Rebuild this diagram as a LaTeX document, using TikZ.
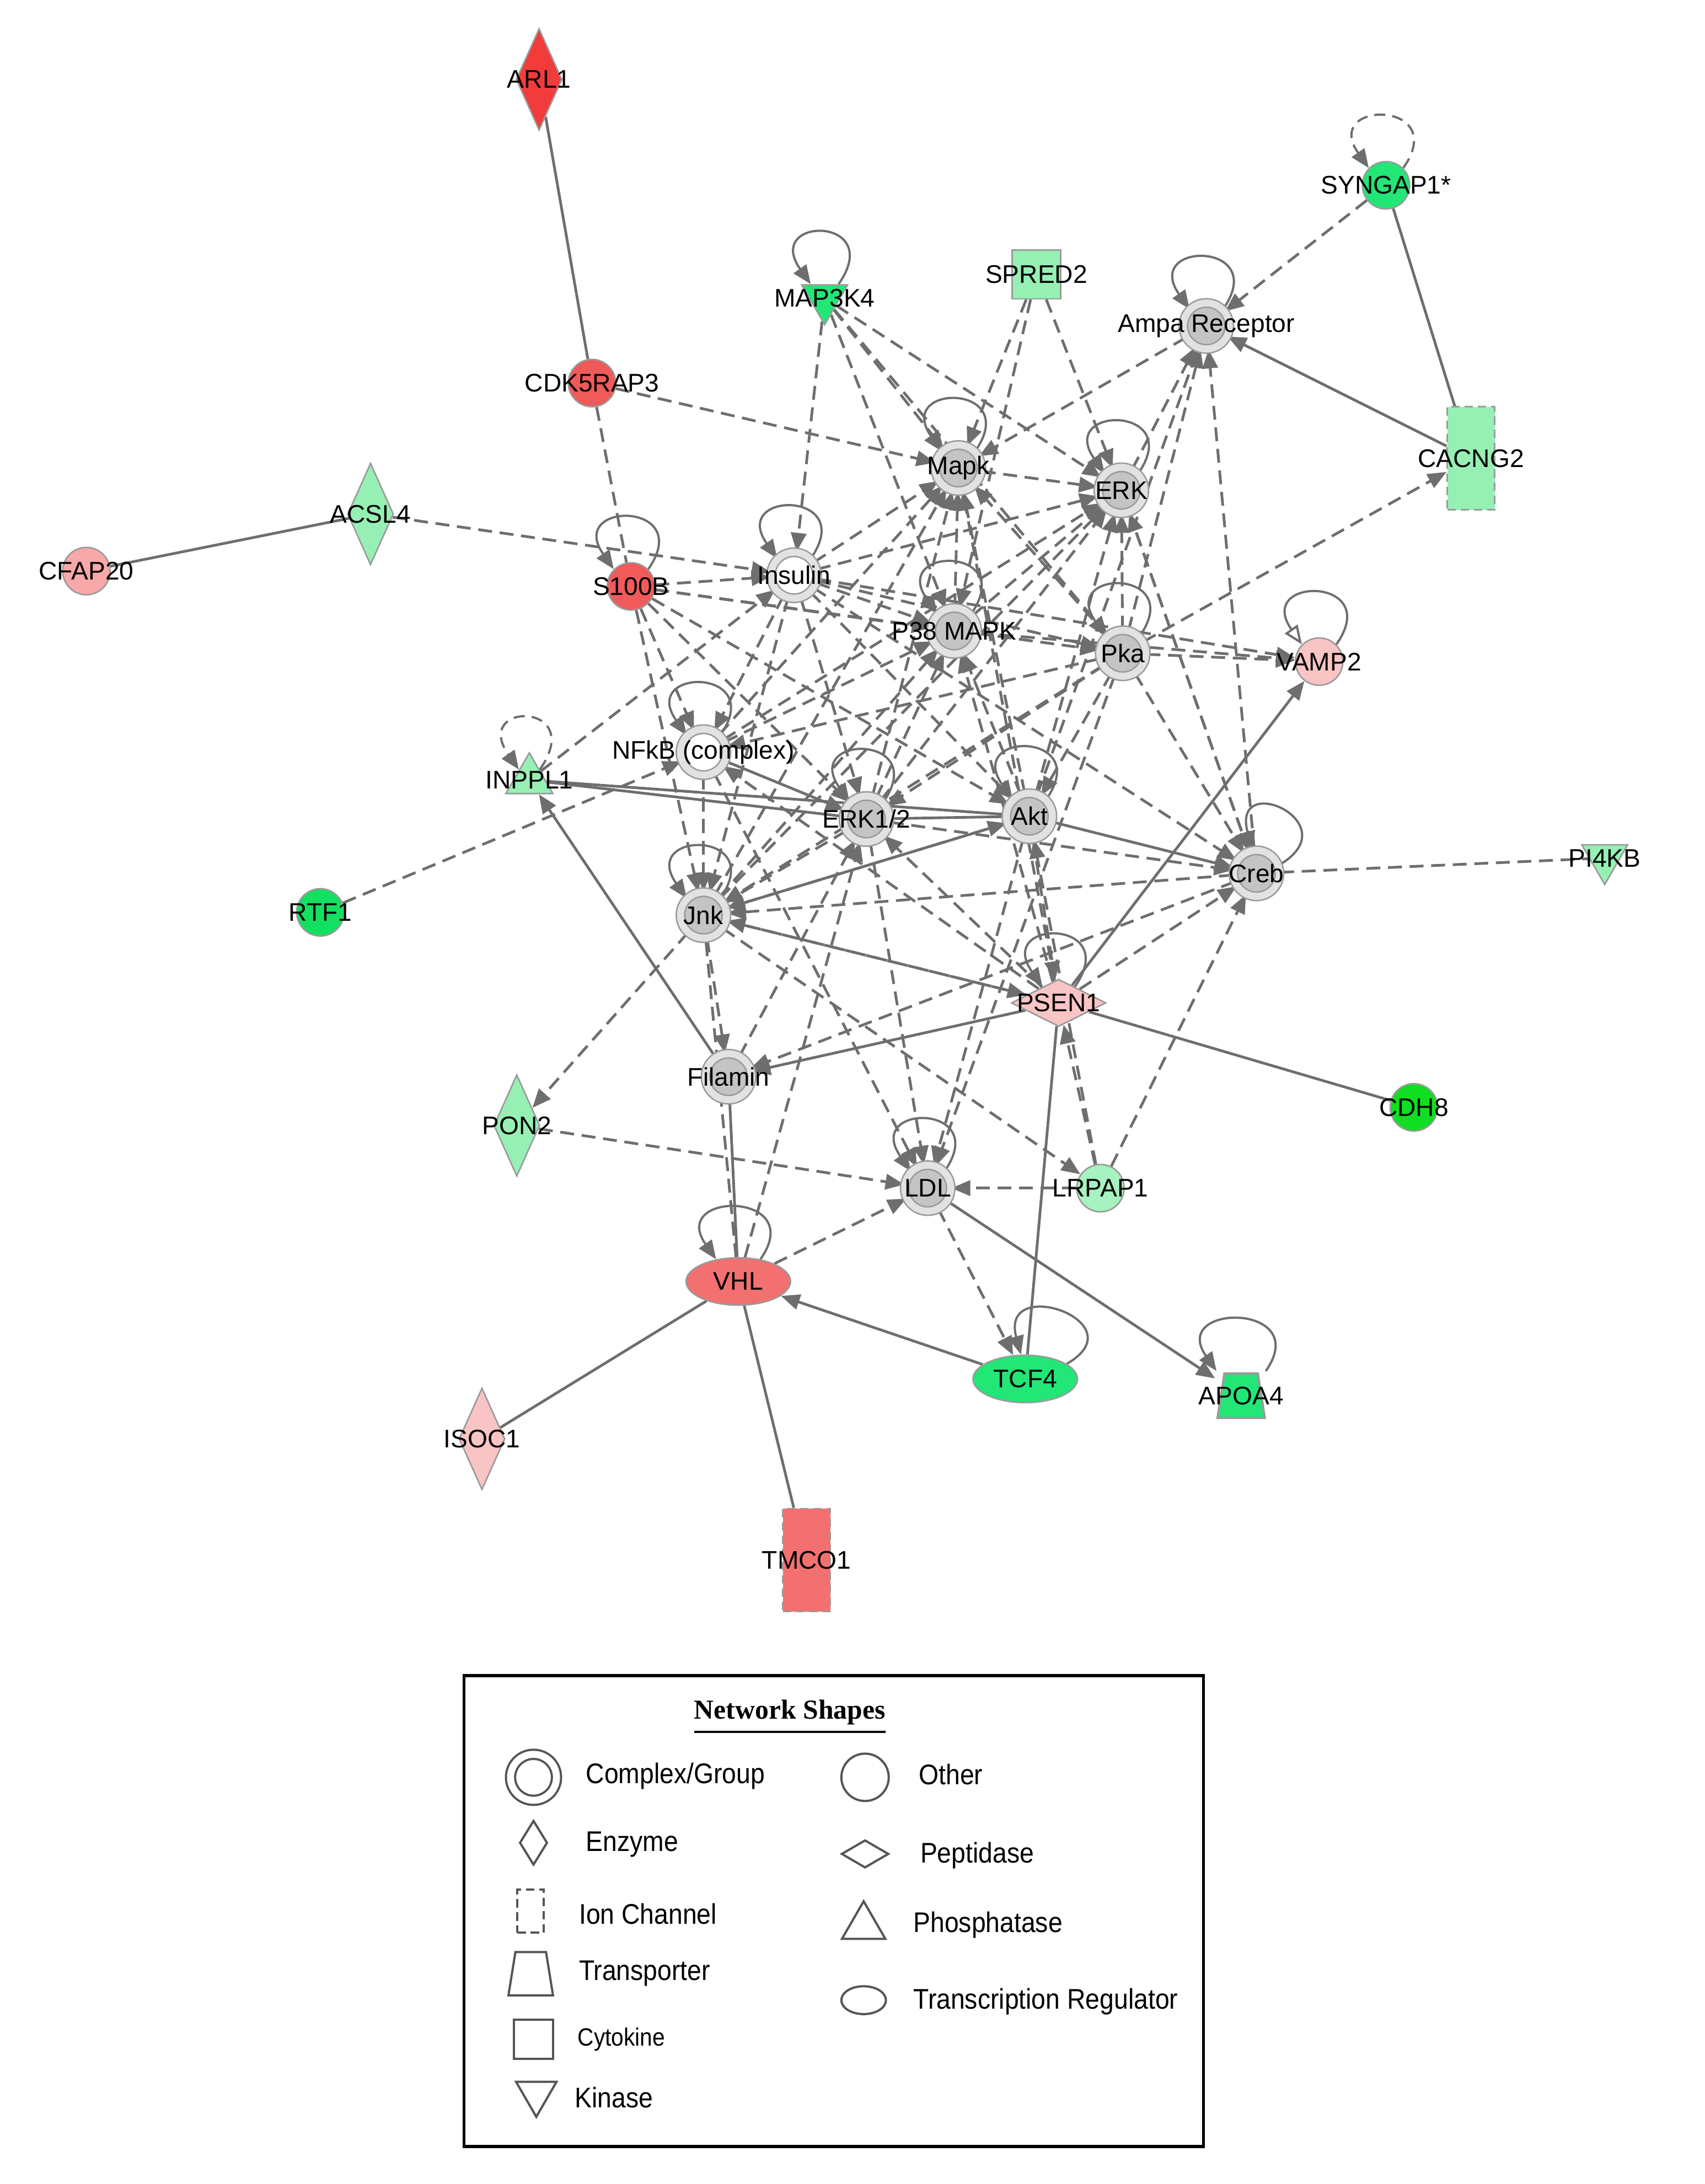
\documentclass[tikz,border=0pt]{standalone}
\usepackage{fontspec}
\setmainfont{Liberation Sans}
\newfontfamily\legendfont[FakeStretch=0.9]{Liberation Sans}
\newfontfamily\legendtitlefont{Liberation Serif}
\usetikzlibrary{shapes.geometric, arrows.meta}
\pgfdeclarelayer{back}
\pgfdeclarelayer{edges}
\pgfsetlayers{back,edges,main}

\begin{document}
\begin{tikzpicture}
    [x=0.1mm, y=-0.1mm,
    % Styles
    gene/.style={draw=nodeline, line width=0.3pt, inner sep=0pt},
    other/.style={gene, circle, minimum size=3.4mm},
    complex/.style={gene, circle, minimum size=3.3mm, fill=hubgray, double=ringgray, double distance=0.5mm},
    enzyme/.style={gene, diamond, minimum width=3.3mm, minimum height=7.3mm},
    peptidase/.style={gene, diamond, minimum width=6.8mm, minimum height=3.4mm},
    kinase/.style={gene, regular polygon, regular polygon sides=3, shape border rotate=180, minimum size=3.8mm},
    phosphatase/.style={gene, regular polygon, regular polygon sides=3, minimum size=3.9mm},
    ionchannel/.style={gene, rectangle, dash pattern=on 0.6mm off 0.35mm, minimum width=3.4mm, minimum height=7.4mm},
    cytokine/.style={gene, rectangle, minimum size=3.5mm},
    transporter/.style 2 args={rectangle, inner sep=0pt, minimum width=3.6mm, minimum height=3.4mm,
        path picture={\filldraw[draw=#2, line width=0.45pt, fill=#1]
            ([shift={(0.1mm,0.1mm)}]path picture bounding box.south west)
            -- ([shift={(-0.1mm,0.1mm)}]path picture bounding box.south east)
            -- ([shift={(-0.6mm,-0.1mm)}]path picture bounding box.north east)
            -- ([shift={(0.6mm,-0.1mm)}]path picture bounding box.north west) -- cycle;}},
    transreg/.style={gene, ellipse, minimum width=7.5mm, minimum height=3.4mm},
    name text/.style={font=\fontsize{5.2}{6}\selectfont, inner sep=0pt, text=black},
    rel/.style={draw=edgegray, line width=0.55pt},
    reltip/.style={-{Triangle[length=1.35mm, width=1.1mm]}},
    acts/.style={rel, reltip, dash pattern=on 1mm off 0.55mm},
    dashrel/.style={rel, dash pattern=on 1mm off 0.55mm},
    sacts/.style={rel, reltip},
    selfloop/.style={rel, line width=0.45pt, reltip},
    legend text/.style={font=\legendfont\fontsize{5.8}{7}\selectfont, anchor=west, inner sep=0pt},
    legend shape/.style={draw=legendline, line width=0.45pt, fill=none}]

    % Colors
    \definecolor{nodeline}{HTML}{9A9A9A}
    \definecolor{edgegray}{HTML}{6E6E6E}
    \definecolor{legendline}{HTML}{555555}
    \definecolor{hubgray}{HTML}{C4C4C4}
    \definecolor{ringgray}{HTML}{E2E2E2}
    \definecolor{redA}{HTML}{F23B3B}
    \definecolor{redB}{HTML}{F05A5A}
    \definecolor{redC}{HTML}{F27070}
    \definecolor{pinkA}{HTML}{F7A8A8}
    \definecolor{pinkB}{HTML}{F9C4C4}
    \definecolor{greenA}{HTML}{22E676}
    \definecolor{greenB}{HTML}{12E060}
    \definecolor{greenC}{HTML}{11DD22}
    \definecolor{lgreen}{HTML}{96F0B4}
    \definecolor{lgreenB}{HTML}{A6F2C0}

    \useasboundingbox (0,0) rectangle (1224,1568);
    \begin{pgfonlayer}{back}
        \fill[white] (0,0) rectangle (1224,1568);
    \end{pgfonlayer}

    % Molecules
    \node[enzyme, fill=redA, label={[name text]center:ARL1}] (ARL1) at (387,57) {};
    \node[other, fill=redB, label={[name text]center:CDK5RAP3}] (CDK5RAP3) at (425,275) {};
    \node[enzyme, fill=lgreen, label={[name text]center:ACSL4}] (ACSL4) at (266,369) {};
    \node[other, fill=pinkA, label={[name text]center:CFAP20}] (CFAP20) at (62,410) {};
    \node[other, fill=redB, label={[name text]center:S100B}] (S100B) at (453,421) {};
    \node[complex, fill=white, label={[name text]center:Insulin}] (Insulin) at (570,413) {};
    \node[kinase, fill=greenA, label={[name text]center:MAP3K4}] (MAP3K4) at (592,214) {};
    \node[cytokine, fill=lgreen, label={[name text]center:SPRED2}] (SPRED2) at (744,197) {};
    \node[complex, label={[name text]center:Ampa Receptor}] (Ampa) at (866,234) {};
    \node[other, fill=greenA, label={[name text]center:SYNGAP1*}] (SYNGAP1) at (995,133) {};
    \node[ionchannel, fill=lgreen, label={[name text]center:CACNG2}] (CACNG2) at (1056,329) {};
    \node[complex, label={[name text]center:Mapk}] (Mapk) at (688,336) {};
    \node[complex, label={[name text]center:ERK}] (ERK) at (805,352) {};
    \node[complex, label={[name text]center:P38 MAPK}] (P38) at (685,453) {};
    \node[complex, label={[name text]center:Pka}] (Pka) at (806,469) {};
    \node[other, fill=pinkB, label={[name text]center:VAMP2}] (VAMP2) at (947,475) {};
    \node[complex, fill=white, label={[name text]center:NFkB (complex)}] (NFkB) at (505,540) {};
    \node[phosphatase, fill=lgreen, label={[name text]center:INPPL1}] (INPPL1) at (380,560) {};
    \node[complex, label={[name text]center:ERK1/2}] (ERK12) at (622,588) {};
    \node[complex, label={[name text]center:Akt}] (Akt) at (739,586) {};
    \node[complex, label={[name text]center:Creb}] (Creb) at (902,627) {};
    \node[kinase, fill=lgreen, label={[name text]center:PI4KB}] (PI4KB) at (1152,616) {};
    \node[other, fill=greenB, label={[name text]center:RTF1}] (RTF1) at (230,655) {};
    \node[complex, label={[name text]center:Jnk}] (Jnk) at (505,657) {};
    \node[peptidase, fill=pinkB, label={[name text]center:PSEN1}] (PSEN1) at (760,720) {};
    \node[complex, label={[name text]center:Filamin}] (Filamin) at (523,773) {};
    \node[other, fill=greenC, label={[name text]center:CDH8}] (CDH8) at (1015,795) {};
    \node[enzyme, fill=lgreen, label={[name text]center:PON2}] (PON2) at (371,808) {};
    \node[complex, label={[name text]center:LDL}] (LDL) at (666,853) {};
    \node[other, fill=lgreenB, label={[name text]center:LRPAP1}] (LRPAP1) at (790,853) {};
    \node[transreg, fill=redC, label={[name text]center:VHL}] (VHL) at (530,920) {};
    \node[transreg, fill=greenA, label={[name text]center:TCF4}] (TCF4) at (736,990) {};
    \node[transporter={greenA}{nodeline}, label={[name text]center:APOA4}] (APOA4) at (891,1002) {};
    \node[enzyme, fill=pinkB, label={[name text]center:ISOC1}] (ISOC1) at (346,1033) {};
    \node[ionchannel, fill=redC, label={[name text]center:TMCO1}] (TMCO1) at (579,1120) {};

    % Relations
    \begin{pgfonlayer}{edges}
        \foreach \a/\b in {ARL1/CDK5RAP3, CFAP20/ACSL4, SYNGAP1/CACNG2, PSEN1/CDH8,
                VHL/ISOC1, VHL/TMCO1, Filamin/VHL, TCF4/PSEN1, INPPL1/ERK12, INPPL1/Akt, ERK12/Akt}
            \draw[rel] (\a) -- (\b);
        \foreach \a/\b in {CACNG2/Ampa, PSEN1/VAMP2, PSEN1/Filamin, Filamin/INPPL1, TCF4/VHL,
                LDL/APOA4, Akt/Creb, NFkB/ERK12, Jnk/Akt}
            \draw[sacts] (\a) -- (\b);
        \foreach \a/\b in {CDK5RAP3/S100B, Creb/PI4KB, VHL/Jnk}
            \draw[dashrel] (\a) -- (\b);
        \foreach \a/\b in {CDK5RAP3/Mapk, ACSL4/Insulin, SYNGAP1/Ampa, Pka/CACNG2, RTF1/NFkB, INPPL1/Insulin,
                Jnk/PON2, PON2/LDL, VHL/LDL, LRPAP1/LDL, LDL/TCF4,
                MAP3K4/Insulin, MAP3K4/Mapk, MAP3K4/ERK, MAP3K4/P38, MAP3K4/Pka,
                SPRED2/Mapk, SPRED2/P38, SPRED2/ERK,
                Ampa/Mapk, ERK/Ampa, Pka/Ampa, Akt/Ampa, Creb/Ampa,
                Pka/VAMP2, P38/VAMP2, Insulin/VAMP2,
                S100B/Insulin, S100B/NFkB, S100B/Jnk, S100B/ERK12, S100B/Akt, S100B/P38, S100B/Pka,
                Insulin/Mapk, Insulin/ERK, Insulin/P38, Insulin/Pka, Insulin/NFkB, Insulin/Jnk,
                Insulin/Creb, Insulin/ERK12, Insulin/Akt,
                Mapk/ERK, P38/Mapk, ERK12/Mapk, Akt/Mapk, Jnk/Mapk, NFkB/Mapk, Pka/Mapk, PSEN1/Mapk,
                P38/ERK, Pka/ERK, Akt/ERK, ERK12/ERK, Jnk/ERK, Creb/ERK, NFkB/ERK,
                Akt/P38, ERK12/P38, Jnk/P38, NFkB/P38, PSEN1/P38,
                Pka/Creb, Pka/Akt, Pka/ERK12, Pka/NFkB, Pka/Jnk,
                NFkB/Jnk, ERK12/Creb, ERK12/Jnk, Akt/PSEN1, Akt/Jnk,
                Jnk/PSEN1, Jnk/Filamin, Filamin/ERK12,
                PSEN1/Creb, PSEN1/ERK12, PSEN1/Jnk, PSEN1/NFkB,
                ERK12/LDL, Akt/LDL, Pka/LDL, NFkB/LDL,
                LRPAP1/PSEN1, LRPAP1/Creb, LRPAP1/Akt, Jnk/LRPAP1, VHL/ERK12,
                Creb/Filamin, Creb/Jnk, ERK/Creb}
            \draw[acts] (\a) -- (\b);

        % self relations
        \foreach \n in {MAP3K4, Ampa, Mapk, ERK, S100B, Insulin, P38, Pka, NFkB, ERK12,
                Akt, Jnk, PSEN1, LDL, VHL, APOA4}
            \draw[selfloop] (\n.45) .. controls +(55:6mm) and +(125:6mm) .. (\n.135);
        \foreach \n in {Creb, TCF4}
            \draw[selfloop] (\n.20) .. controls +(30:6mm) and +(105:6mm) .. (\n.100);
        \foreach \n in {SYNGAP1, INPPL1}
            \draw[selfloop, dash pattern=on 0.8mm off 0.5mm] (\n.45) .. controls +(55:6mm) and +(125:6mm) .. (\n.135);
        \draw[selfloop, -{Triangle[open, length=1.35mm, width=1.1mm]}]
            (VAMP2.45) .. controls +(55:6mm) and +(125:6mm) .. (VAMP2.135);
    \end{pgfonlayer}

    % Legend
    \draw[line width=0.6pt] (333,1203) rectangle (864,1541);
    \node[font=\legendtitlefont\bfseries\fontsize{5.6}{7}\selectfont, inner sep=0pt] (legendtitle) at (567,1233) {\underline{Network Shapes}};

    \node[complex, legend shape, double=white] (lgComplex) at (383,1276) {};
    \node[enzyme, legend shape, minimum width=2mm, minimum height=3.2mm] (lgEnzyme) at (383,1323) {};
    \node[ionchannel, legend shape, minimum width=1.9mm, minimum height=3.1mm] (lgIon) at (381,1372) {};
    \node[transporter={white}{legendline}, minimum width=3.4mm, minimum height=3.3mm] (lgTransporter) at (381,1417) {};
    \node[cytokine, legend shape, minimum size=2.8mm] (lgCytokine) at (383,1464) {};
    \node[kinase, legend shape, minimum size=3.35mm] (lgKinase) at (385,1503) {};
    \node[other, legend shape] (lgOther) at (621,1276) {};
    \node[peptidase, legend shape, minimum width=3.4mm, minimum height=2mm] (lgPeptidase) at (621,1331) {};
    \node[phosphatase, legend shape, minimum size=3.6mm] (lgPhosphatase) at (620,1383) {};
    \node[transreg, legend shape, minimum width=3.2mm, minimum height=2mm] (lgTransreg) at (620,1436) {};

    \node[legend text] (txComplex) at (420,1275) {Complex/Group};
    \node[legend text] (txEnzyme) at (420,1324) {Enzyme};
    \node[legend text] (txIon) at (415,1374) {Ion Channel};
    \node[legend text] (txTransporter) at (415,1417) {Transporter};
    \node[legend text, font=\legendfont\fontsize{5.1}{6}\selectfont] (txCytokine) at (414,1464) {Cytokine};
    \node[legend text] (txKinase) at (412,1506) {Kinase};
    \node[legend text] (txOther) at (659,1274) {Other};
    \node[legend text] (txPeptidase) at (660,1332) {Peptidase};
    \node[legend text] (txPhosphatase) at (655,1382) {Phosphatase};
    \node[legend text] (txTransreg) at (655,1437) {Transcription Regulator};

\end{tikzpicture}
\end{document}
